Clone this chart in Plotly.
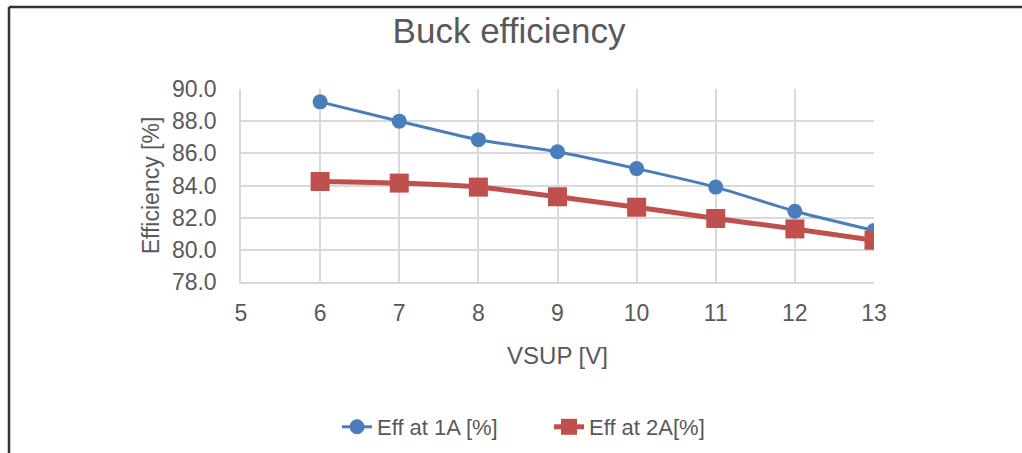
import plotly.graph_objects as go

vsup = [6, 7, 8, 9, 10, 11, 12, 13]
eff_1a = [89.2, 88.0, 86.85, 86.1, 85.05, 83.9, 82.4, 81.2]
eff_2a = [84.25, 84.15, 83.9, 83.3, 82.65, 81.95, 81.3, 80.6]

FONT = "Liberation Sans, Arial, sans-serif"
GRAY = "#595959"
GRID = "#D9D9D9"

fig = go.Figure()
fig.add_trace(go.Scatter(
    x=vsup, y=eff_1a, name="Eff at 1A [%]", mode="lines+markers",
    line=dict(color="#4A7EBB", width=3, shape="spline", smoothing=0.5),
    marker=dict(symbol="circle", size=15, color="#4A7EBB"),
))
fig.add_trace(go.Scatter(
    x=vsup, y=eff_2a, name="Eff at 2A[%]", mode="lines+markers",
    line=dict(color="#C0504D", width=5, shape="spline", smoothing=0.5),
    marker=dict(symbol="square", size=19, color="#C0504D"),
))

W, H = 1022, 453
L, R, T, B = 241, 148, 89, 171
pw, ph = W - L - R, H - T - B

def px(x):
    return (x - L) / pw

def py(y):
    return (H - B - y) / ph

fig.update_layout(
    width=W, height=H,
    margin=dict(l=L, r=R, t=T, b=B, autoexpand=False),
    paper_bgcolor="white", plot_bgcolor="white",
    font=dict(family=FONT, color=GRAY),
    title=dict(text="Buck efficiency", xref="container", x=509 / W, xanchor="center",
               yref="container", y=1 - 31 / H, yanchor="middle",
               font=dict(size=35, color=GRAY, family=FONT)),
    xaxis=dict(range=[5, 13], dtick=1, tick0=5, showgrid=True, gridcolor=GRID,
               gridwidth=1.5, showline=True, linecolor=GRID, linewidth=1.5,
               zeroline=False, tickfont=dict(size=23, color=GRAY),
               ticklabelstandoff=10, automargin=False,
               title=dict(text="VSUP [V]", font=dict(size=24, color=GRAY), standoff=22)),
    yaxis=dict(range=[78, 90], dtick=2, tick0=78, tickformat=".1f", showgrid=True,
               gridcolor=GRID, gridwidth=1.5, showline=True, linecolor=GRID,
               linewidth=1.5, zeroline=False, tickfont=dict(size=23, color=GRAY),
               ticklabelstandoff=18, automargin=False,
               title=dict(text="Efficiency [%]", font=dict(size=23, color=GRAY), standoff=6)),
    legend=dict(orientation="h", xref="container", yref="container",
                x=(352 - 15) / W, xanchor="left", y=1 - 427 / H,
                yanchor="middle", font=dict(size=22, color=GRAY),
                entrywidth=167, bgcolor="rgba(0,0,0,0)"),
    showlegend=True,
)

fig.add_shape(type="line", xref="paper", yref="paper",
              x0=px(9), x1=px(1030), y0=py(7), y1=py(7),
              line=dict(color="#333333", width=2.5))
fig.add_shape(type="line", xref="paper", yref="paper",
              x0=px(9), x1=px(9), y0=py(7), y1=py(460),
              line=dict(color="#333333", width=2.5))

fig.write_html("out.html", config={"displayModeBar": False},
               post_script="document.body.style.margin='0px';")
